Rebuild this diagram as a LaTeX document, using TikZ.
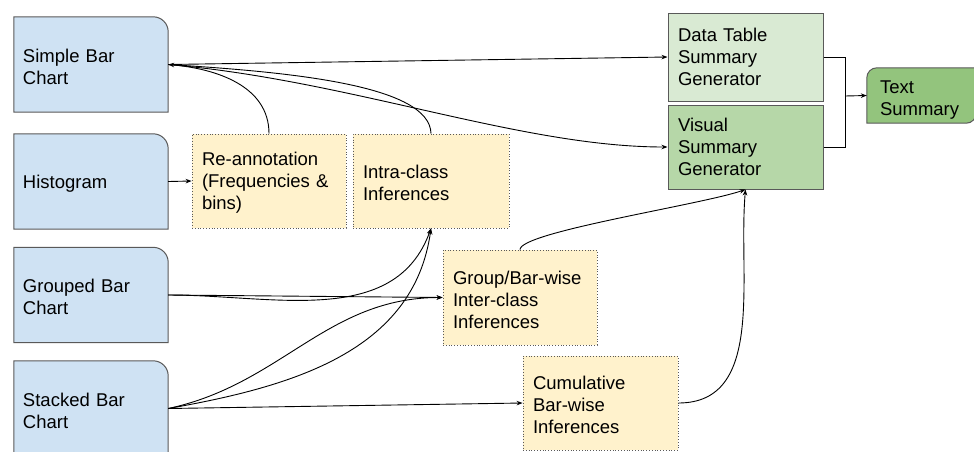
\documentclass[tikz,border=0pt]{standalone}
\usepackage{fontspec}
\setmainfont{Liberation Sans}
\usetikzlibrary{arrows.meta,backgrounds}
\definecolor{cblue}{HTML}{CFE2F3}
\definecolor{cyellow}{HTML}{FFF2CC}
\definecolor{cgreenA}{HTML}{D9EAD3}
\definecolor{cgreenB}{HTML}{B6D7A8}
\definecolor{cgreenC}{HTML}{93C47D}
\definecolor{cborder}{HTML}{595959}
\begin{document}
\begin{tikzpicture}[x=1pt,y=1pt,
  txt/.style={font=\fontsize{18.5}{22}\selectfont, align=left, inner ysep=0pt},
  lowered/.style={execute at begin node={\rule{0pt}{#1}}},
  chart/.style={txt, lowered=17.5pt, inner xsep=9pt, text width=136pt, minimum height=95pt},
  infer/.style={txt, lowered=17.5pt, inner xsep=10pt, minimum height=94pt, fill=cyellow, draw=cborder, line width=0.8pt, dash pattern=on 0.8pt off 2pt},
  gen/.style={txt, lowered=14pt, inner xsep=10pt, text width=135pt, draw=cborder, line width=1pt},
  shapeline/.style={draw=cborder, line width=1pt},
  conn/.style={line width=0.9pt, -{Stealth[length=6pt,width=4.5pt]}},
  plain/.style={line width=0.9pt}
]
\useasboundingbox (0,0) rectangle (974,-451);

% input chart types
\node[chart] (simple)  at (91,-64.5)  {Simple Bar\\Chart};
\node[chart] (hist)    at (91,-181.5) {Histogram};
\node[chart] (grouped) at (91,-295)   {Grouped Bar\\Chart};
\node[chart] (stacked) at (91,-408.5) {Stacked Bar\\Chart};

% inference boxes
\node[infer, text width=134pt] (reann) at (269,-181)   {Re-annotation\\(Frequencies \&\\bins)};
\node[infer, text width=136pt] (intra) at (431,-181)   {Intra-class\\Inferences};
\node[infer, text width=134pt, minimum height=95pt] (inter) at (520,-297.5) {Group/Bar-wise\\Inter-class\\Inferences};
\node[infer, text width=135pt] (cumul) at (600.5,-403) {Cumulative\\Bar-wise\\Inferences};

% generators
\node[gen, fill=cgreenA, minimum height=88pt] (dtsg) at (745.5,-57)  {Data Table\\Summary\\Generator};
\node[gen, fill=cgreenB, minimum height=84pt] (vsg)  at (745.5,-147) {Visual\\Summary\\Generator};
\node[txt, lowered=21pt, inner xsep=13pt, text width=83pt, minimum height=55pt] (ts) at (921.5,-95.5) {Text\\Summary};

\begin{pgfonlayer}{background}
  \foreach \n in {simple,hist,grouped,stacked}{
    \filldraw[shapeline, fill=cblue] (\n.south west) -- (\n.north west)
      -- ([xshift=-15pt]\n.north east) arc[start angle=90,end angle=0,radius=15pt]
      -- (\n.south east) -- cycle;
  }
  \filldraw[shapeline, fill=cgreenC] ([yshift=-10pt]ts.north west) -- (ts.south west)
    -- ([xshift=-10pt]ts.south east) arc[start angle=-90,end angle=0,radius=10pt]
    -- (ts.north east) -- ([xshift=10pt]ts.north west)
    arc[start angle=90,end angle=180,radius=10pt] -- cycle;
\end{pgfonlayer}

% connectors
\draw[conn] (reann.north) to[out=90,in=-5] (simple.east);
\draw[plain] (simple.east) .. controls (290,-72) and (430,-85) .. (intra.north);
\draw[conn] (simple.east) -- (dtsg.west);
\draw[conn] (simple.east) .. controls (350,-80) and (520,-147) .. (vsg.west);
\draw[conn] (hist.east) -- (reann.west);
\draw[conn] (grouped.east) to[out=0,in=-110] (intra.south);
\draw[conn] (grouped.east) -- (inter.west);
\draw[conn] (stacked.east) to[out=10,in=-98] (intra.south);
\draw[conn] (stacked.east) to[out=12,in=180] (inter.west);
\draw[conn] (stacked.east) -- (cumul.west);
\draw[conn] (inter.north) .. controls (520,-232) and (700,-205) .. (vsg.south);
\draw[conn] (cumul.east) to[out=0,in=-95] (vsg.south);
\coordinate (join) at (845,-96);
\draw[plain] (dtsg.east) -| (join);
\draw[plain] (vsg.east) -| (join);
\draw[conn] (join) -- (ts.west);
\end{tikzpicture}
\end{document}
